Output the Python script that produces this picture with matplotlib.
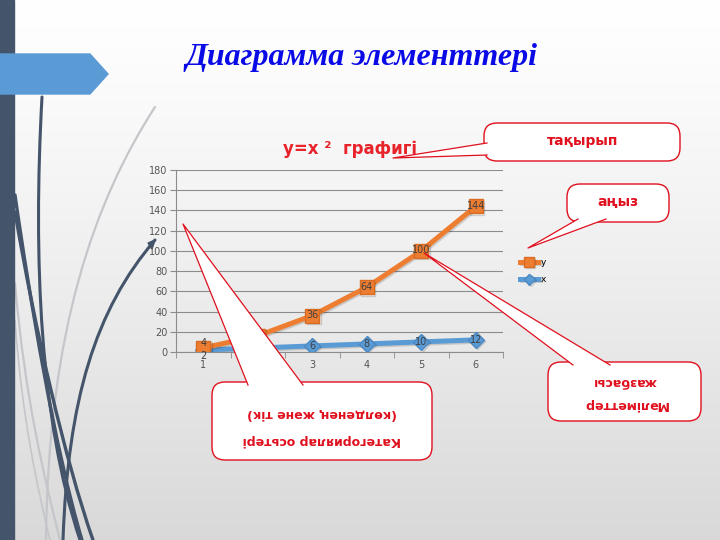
import numpy as np
import matplotlib
matplotlib.use("Agg")
import matplotlib.pyplot as plt
from matplotlib.patches import FancyBboxPatch, Polygon, PathPatch
from matplotlib.path import Path
import matplotlib.patheffects as pe

# ---------------- data ----------------
categories = [1, 2, 3, 4, 5, 6]
x_vals = [2, 4, 6, 8, 10, 12]
y_vals = [4, 16, 36, 64, 100, 144]
y_ticks = [0, 20, 40, 60, 80, 100, 120, 140, 160, 180]
slide_title = "Диаграмма элементтері"
chart_title = "y=x ²  графигі"

W, H = 720, 540
fig = plt.figure(figsize=(7.2, 5.4), dpi=100)

# ---------------- background layer (pixel coords) ----------------
bg = fig.add_axes([0, 0, 1, 1], zorder=0)
bg.set_xlim(0, W); bg.set_ylim(H, 0); bg.axis("off")
grad = np.linspace(0, 1, 256).reshape(-1, 1)
top = np.array([1.0, 1.0, 1.0]); bot = np.array([0.85, 0.85, 0.85])
img = top + (bot - top) * grad[..., None] ** 1.2
bg.imshow(img.reshape(256, 1, 3), extent=(0, W, H, 0), aspect="auto", zorder=0)

def bez(ax, pts, color, lw, z=1):
    path = Path(pts, [Path.MOVETO, Path.CURVE4, Path.CURVE4, Path.CURVE4])
    ax.add_patch(PathPatch(path, fill=False, edgecolor=color, lw=lw, zorder=z,
                           capstyle="round"))

light = "#c4c6ca"
bez(bg, [(155, 107), (95, 200), (48, 330), (46, 540)], light, 1.6)
bez(bg, [(15, 283), (25, 400), (45, 480), (60, 540)], light, 1.6)
bez(bg, [(15, 320), (22, 420), (38, 490), (50, 540)], light, 1.2)
dark = "#44546a"
bez(bg, [(42, 97), (33, 260), (40, 420), (80, 540)], dark, 2.2)
bez(bg, [(15, 195), (30, 300), (55, 450), (82, 540)], dark, 2.4)
bez(bg, [(15, 212), (35, 330), (65, 460), (93, 540)], dark, 2.4)
bez(bg, [(155, 240), (95, 310), (68, 400), (63, 540)], dark, 2.2)
bg.add_patch(Polygon([(155, 240), (148, 243), (152, 249)], closed=True,
                     color=dark, zorder=1))

bg.add_patch(plt.Rectangle((0, 0), 14, H, color="#44546a", zorder=2))
bg.add_patch(Polygon([(0, 54), (90, 54), (108, 74), (90, 94), (0, 94)],
                     closed=True, color="#5b9bd5", zorder=3))

bg.text(361, 58, slide_title, ha="center", va="center", fontsize=23,
        family="Liberation Serif", style="italic", weight="bold",
        color="#0a0ae6", zorder=4)

# ---------------- chart ----------------
L, R, T, B = 176, 503, 170, 352
ax = fig.add_axes([L / W, 1 - B / H, (R - L) / W, (B - T) / H], zorder=1)
ax.patch.set_alpha(0)
ax.set_xlim(0.5, 6.5)
ax.set_ylim(0, 180)
ax.set_yticks(y_ticks)
ax.set_xticks(categories)
ax.set_xticks([0.5 + i for i in range(7)], minor=True)
ax.grid(axis="y", color="#8c8c8c", lw=0.8)
ax.set_axisbelow(True)
for s in ["top", "right"]:
    ax.spines[s].set_visible(False)
for s in ["left", "bottom"]:
    ax.spines[s].set_color("#8c8c8c")
    ax.spines[s].set_linewidth(0.8)
ax.tick_params(axis="y", length=4, color="#8c8c8c", labelsize=7,
               labelcolor="#555555", pad=2)
ax.tick_params(axis="x", which="major", length=0, labelsize=7,
               labelcolor="#555555", pad=6)
ax.tick_params(axis="x", which="minor", length=4, color="#8c8c8c")

shadow = [pe.SimpleLineShadow(offset=(1.0, -1.0), alpha=0.15), pe.Normal()]
lx, = ax.plot(categories, x_vals, color="#5b9bd5", lw=3.6, marker="D",
              markersize=8, markerfacecolor="#5b9bd5", markeredgecolor="#4a88c2",
              label="x", zorder=3, path_effects=shadow)
ly, = ax.plot(categories, y_vals, color="#ed7d31", lw=3.6, marker="s",
              markersize=10, markerfacecolor="#ed7d31", markeredgecolor="#d86c22",
              label="y", zorder=4, path_effects=shadow)
for c, vx, vy in zip(categories, x_vals, y_vals):
    close = abs(vy - vx) < 8
    ax.annotate(str(vx), (c, vx), xytext=(0, -4.0 if close else 0),
                textcoords="offset points", ha="center", va="center",
                fontsize=7, color="#404040", zorder=5)
    ax.annotate(str(vy), (c, vy), xytext=(0, 3.5 if close else 0.5),
                textcoords="offset points", ha="center", va="center",
                fontsize=7, color="#404040", zorder=6)

ax.legend(handles=[ly, lx], loc="upper left",
          bbox_to_anchor=(512 / W, 1 - 250 / H), bbox_transform=fig.transFigure,
          frameon=False, fontsize=6.5, handlelength=2.0, labelspacing=0.9,
          handletextpad=0.3, markerscale=0.7)

fig.text(350 / W, 1 - 149 / H, chart_title, ha="center", va="center",
         fontsize=12, weight="bold", color="#e8232a", family="DejaVu Sans")

# ---------------- callouts (foreground) ----------------
fg = fig.add_axes([0, 0, 1, 1], zorder=3)
fg.set_xlim(0, W); fg.set_ylim(H, 0); fg.axis("off"); fg.patch.set_alpha(0)
red = "#e0101e"

def callout(x0, y0, x1, y1, base, tip, r=13):
    box = FancyBboxPatch((x0 + r, y0 + r), (x1 - x0) - 2 * r, (y1 - y0) - 2 * r,
                         boxstyle=f"round,pad={r}", facecolor="white",
                         edgecolor=red, lw=1.0, zorder=2)
    fg.add_patch(box)
    fg.add_patch(Polygon([base[0], tip, base[1]], closed=True, facecolor="white",
                         edgecolor="none", zorder=3))
    fg.plot([base[0][0], tip[0], base[1][0]], [base[0][1], tip[1], base[1][1]],
            color=red, lw=0.9, zorder=4)

callout(484, 123, 680, 161, [(487, 143), (487, 155)], (393, 158))
fg.text(583, 141, "тақырып", ha="center", va="center", fontsize=10,
        weight="bold", color=red, zorder=5)

callout(567, 184, 669, 222, [(578, 219), (606, 219)], (528, 248))
fg.text(618, 202, "аңыз", ha="center", va="center", fontsize=10,
        weight="bold", color=red, zorder=5)

callout(548, 362, 701, 421, [(573, 365), (610, 365)], (424, 253))
fg.text(625, 382, "жазбасы", ha="center", va="center", fontsize=9,
        weight="bold", color=red, rotation=180, zorder=5)
fg.text(625, 404, "Мәліметтер", ha="center", va="center", fontsize=9,
        weight="bold", color=red, rotation=180, zorder=5)

callout(212, 382, 432, 460, [(248, 385), (303, 385)], (183, 224))
fg.text(322, 413, "(көлденең және тік)", ha="center", va="center", fontsize=9,
        weight="bold", color=red, rotation=180, zorder=5)
fg.text(322, 441, "Категориялар осьтері", ha="center", va="center", fontsize=9,
        weight="bold", color=red, rotation=180, zorder=5)

fig.savefig("out.png", dpi=100)
